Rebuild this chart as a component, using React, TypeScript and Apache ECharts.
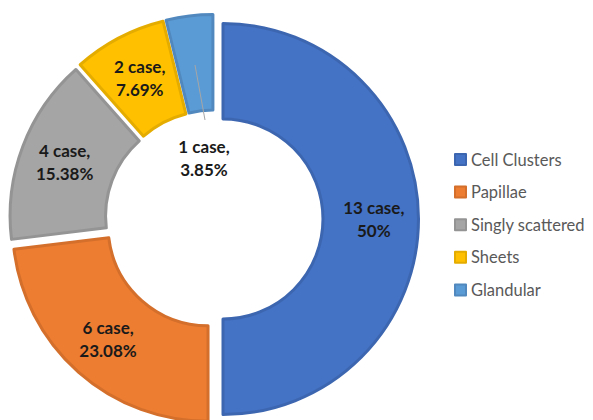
import React, { useEffect, useRef } from "react";
import * as echarts from "echarts";

const categories = ["Cell Clusters", "Papillae", "Singly scattered", "Sheets", "Glandular"];
const caseCounts = [13, 6, 4, 2, 1];
const percentLabels = ["50%", "23.08%", "15.38%", "7.69%", "3.85%"];
const colors = ["#4472C4", "#ED7D31", "#A5A5A5", "#FFC000", "#5B9BD5"];
const borderColors = ["#3D66B0", "#D46F2B", "#949494", "#E5AC00", "#5189BF"];

const labelText = (i: number) => `${caseCounts[i]} case,\n${percentLabels[i]}`;

export default function App() {
  const ref = useRef<HTMLDivElement>(null);
  useEffect(() => {
    if (!ref.current) return;
    const chart = echarts.init(ref.current, null, { renderer: "svg" });
    const data = categories.map((name, i) => ({
      name,
      value: caseCounts[i],
      selected: true,
      itemStyle: { color: colors[i], borderColor: borderColors[i], borderWidth: 3 },
      label: { show: i !== 4, position: "inside" as const },
      labelLine: { show: false },
    }));
    const labelFont = {
      fill: "#1A1A1A",
      fontFamily: "Lato",
      fontWeight: "bold" as const,
      fontSize: 17,
      lineHeight: 23,
    };
    chart.setOption({
      animation: false,
      legend: {
        orient: "vertical",
        left: 454,
        top: 151,
        padding: 0,
        itemWidth: 11,
        itemHeight: 11,
        itemGap: 15.6,
        icon: "rect",
        textStyle: { color: "#595959", fontFamily: "Lato", fontSize: 16.5, lineHeight: 17 },
        data: categories,
      },
      graphic: [
        {
          type: "line",
          shape: { x1: 195, y1: 65, x2: 205, y2: 120 },
          style: { stroke: "#A6A6A6", lineWidth: 1 },
          z: 10,
        },
        {
          type: "text",
          x: 204,
          y: 158,
          z: 10,
          style: { ...labelFont, text: labelText(4), align: "center", verticalAlign: "middle" },
        },
      ],
      series: [
        {
          type: "pie",
          center: [214, 219],
          radius: [100, 195.5],
          startAngle: 90,
          clockwise: true,
          selectedMode: "multiple",
          selectedOffset: 9,
          avoidLabelOverlap: false,
          emphasis: { disabled: true },
          label: {
            show: true,
            formatter: (p: any) => labelText(p.dataIndex),
            color: "#1A1A1A",
            fontFamily: "Lato",
            fontWeight: "bold",
            fontSize: 17,
            lineHeight: 23,
            align: "center",
          },
          data,
        },
      ],
    });
    return () => chart.dispose();
  }, []);
  return (
    <div
      ref={ref}
      style={{ position: "fixed", left: 0, top: 0, width: 593, height: 420, background: "#fff" }}
    />
  );
}
